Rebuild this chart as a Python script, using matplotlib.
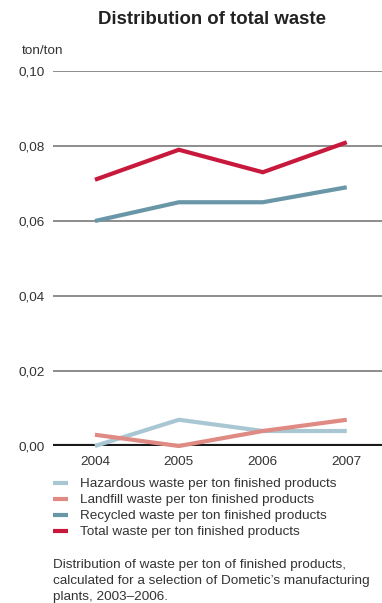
import matplotlib
matplotlib.use("Agg")
import matplotlib.pyplot as plt

plt.rcParams['font.family'] = ['Liberation Sans', 'DejaVu Sans']

years = [2004, 2005, 2006, 2007]
hazardous = [0.000, 0.007, 0.004, 0.004]
landfill = [0.003, 0.000, 0.004, 0.007]
recycled = [0.060, 0.065, 0.065, 0.069]
total = [0.071, 0.079, 0.073, 0.081]
y_ticks = [0.00, 0.02, 0.04, 0.06, 0.08, 0.10]
y_tick_labels = ["0,00", "0,02", "0,04", "0,06", "0,08", "0,10"]

series = [
    ("Hazardous waste per ton finished products", hazardous, "#a9c6d3"),
    ("Landfill waste per ton finished products", landfill, "#e08a84"),
    ("Recycled waste per ton finished products", recycled, "#6a97a8"),
    ("Total waste per ton finished products", total, "#c8193c"),
]

footnote = [
    "Distribution of waste per ton of finished products,",
    "calculated for a selection of Dometic\u2019s manufacturing",
    "plants, 2003\u20132006.",
]

text_color = "#333333"
fs = 9.7
W, H = 382, 603
fig = plt.figure(figsize=(W / 100, H / 100), dpi=100)
ax = fig.add_axes([53 / W, (H - 446) / H, 1 - 53 / W, (446 - 71) / H])

for y in y_ticks[1:]:
    ax.axhline(y, color="#6e6e6e", lw=1.1, zorder=1)
ax.axhline(0, color="#1a1a1a", lw=3.0, zorder=2)

handles = []
for label, vals, color in series:
    h, = ax.plot(years, vals, color=color, lw=3.0, solid_capstyle="butt",
                 solid_joinstyle="miter", label=label, zorder=3, clip_on=False)
    handles.append(h)

ax.set_xlim(2003.5, 2007.42)
ax.set_ylim(0, 0.10)
ax.set_xticks(years)
ax.set_xticklabels([str(y) for y in years])
ax.set_yticks(y_ticks)
ax.set_yticklabels(y_tick_labels)
ax.tick_params(axis="both", length=0, labelsize=fs, colors=text_color)
ax.tick_params(axis="x", pad=7)
ax.tick_params(axis="y", pad=6)
for s in ax.spines.values():
    s.set_visible(False)
ax.patch.set_visible(False)

fig.text(212 / W, 1 - 19 / H, "Distribution of total waste", ha="center", va="center",
         fontsize=13.4, fontweight="bold", color="#222222")
fig.text(22 / W, 1 - 51 / H, "ton/ton", ha="left", va="center", fontsize=fs, color=text_color)

leg = fig.legend(handles=handles, loc="upper left", bbox_to_anchor=(53 / W, 1 - 478 / H),
                 frameon=False, fontsize=fs, handlelength=1.1, handletextpad=0.9,
                 labelspacing=0.26, borderaxespad=0, borderpad=0, labelcolor=text_color)
for lh in leg.legend_handles:
    lh.set_linewidth(3.0)

for i, line in enumerate(footnote):
    fig.text(53 / W, 1 - (565 + 16 * i) / H, line, ha="left", va="center",
             fontsize=fs, color=text_color)

fig.savefig("out.png", dpi=100)
